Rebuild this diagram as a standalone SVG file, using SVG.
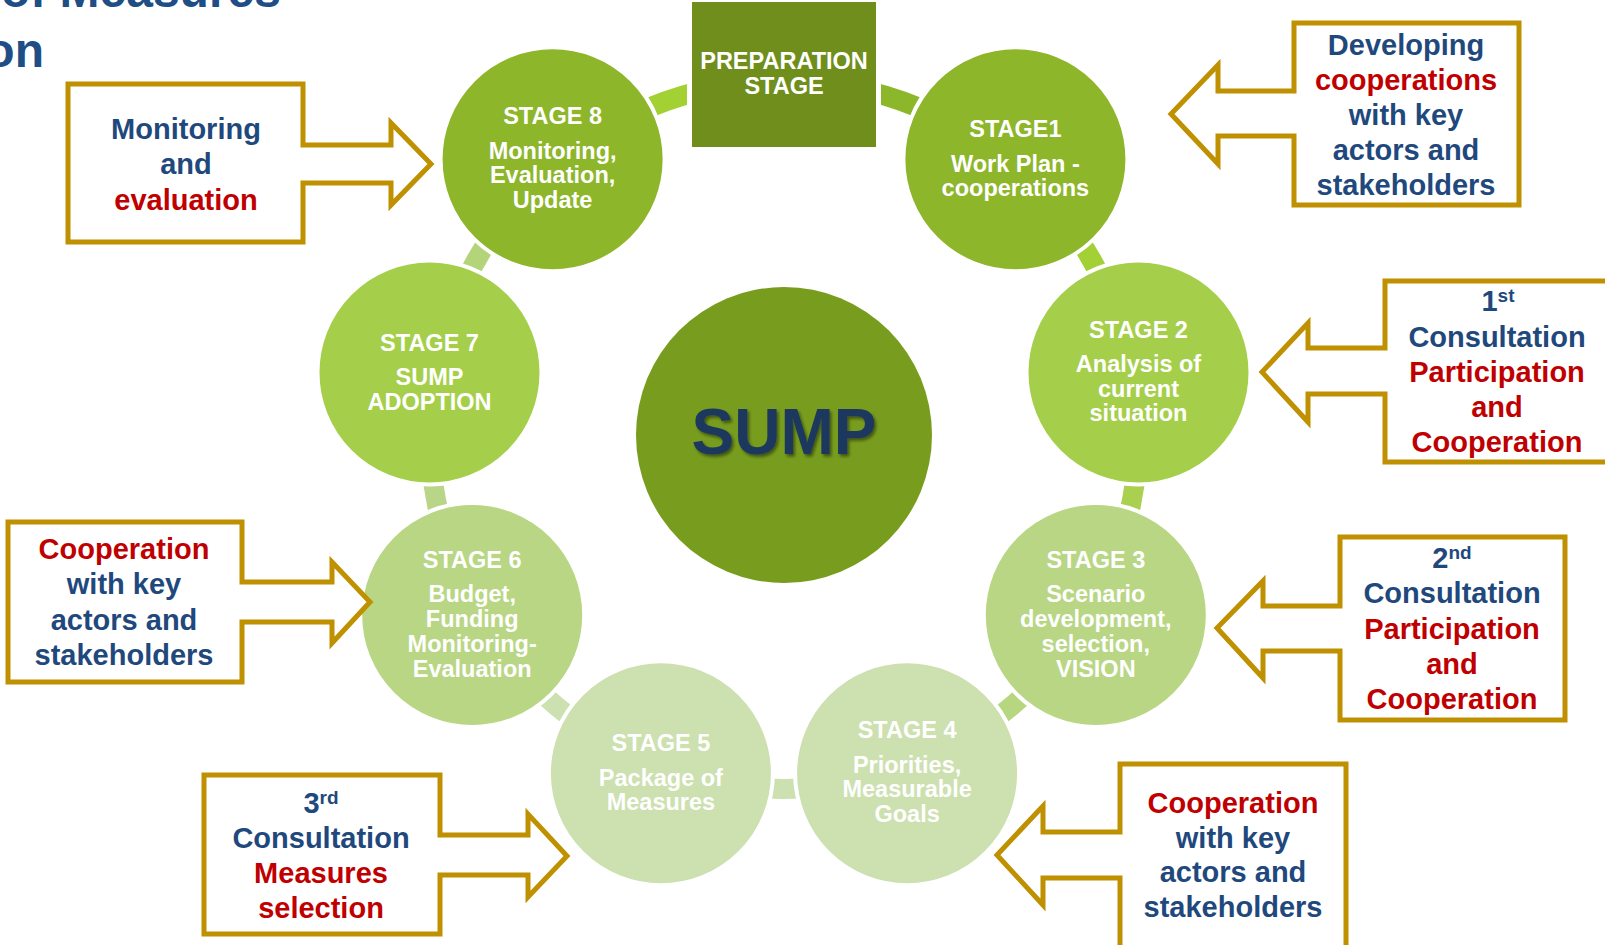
<svg xmlns="http://www.w3.org/2000/svg" xmlns:xlink="http://www.w3.org/1999/xlink" width="1605" height="945" viewBox="0 0 1605 945">
<style>
  .stage { stroke: #ffffff; stroke-width: 4; }
  .st { font-family: "Liberation Sans", Arial, sans-serif; font-weight: bold; font-size: 23.5px; fill: #ffffff; text-anchor: middle; }
  .co { fill: #ffffff; stroke: #bf9000; stroke-width: 5; stroke-linejoin: miter; }
  .ct { font-family: "Liberation Sans", Arial, sans-serif; font-weight: bold; font-size: 29px; text-anchor: middle; }
  .navy { fill: #1f497d; }
  .red { fill: #c00000; }
  .title { font-family: "Liberation Sans", Arial, sans-serif; font-weight: bold; font-size: 48px; fill: #1f4e86; text-anchor: end; }
</style>
<defs>
  <path id="seg" d="M362.01,-38.05 A364,364 0 0 1 362.01,38.05 L342.12,35.96 A344,344 0 0 0 342.12,-35.96 Z"/>
  <path id="segw" d="M355.37,-78.78 A364,364 0 0 1 355.37,78.78 L335.85,74.46 A344,344 0 0 0 335.85,-74.46 Z"/>
  <filter id="sh" x="-10%" y="-10%" width="130%" height="140%">
    <feDropShadow dx="2" dy="2.5" stdDeviation="1.5" flood-color="#000000" flood-opacity="0.45"/>
  </filter>
</defs>
<rect width="1605" height="945" fill="#ffffff"/>

<g id="title">
  <text class="title" x="281" y="7">n of Measures</text>
  <text class="title" x="44" y="67">on</text>
</g>

<g id="connectors" transform="translate(784 435)">
  <use xlink:href="#segw" fill="#8db72a" transform="rotate(-67.5)"/>
  <use xlink:href="#seg" fill="#a3d034" transform="rotate(-30)"/>
  <use xlink:href="#seg" fill="#a9d04f" transform="rotate(10)"/>
  <use xlink:href="#seg" fill="#b7d680" transform="rotate(50)"/>
  <use xlink:href="#seg" fill="#cde0b0" transform="rotate(90)"/>
  <use xlink:href="#seg" fill="#cde0b0" transform="rotate(130)"/>
  <use xlink:href="#seg" fill="#b9d688" transform="rotate(170)"/>
  <use xlink:href="#seg" fill="#b3d479" transform="rotate(210)"/>
  <use xlink:href="#segw" fill="#a3d134" transform="rotate(-112.5)"/>
</g>

<g id="sump">
  <circle cx="784" cy="435" r="148" fill="#789d1e"/>
  <text x="784" y="454" font-family="Liberation Sans, Arial, sans-serif" font-weight="bold" font-size="64" fill="#1b375f" text-anchor="middle" filter="url(#sh)">SUMP</text>
</g>

<g id="prep">
  <rect x="689.5" y="-0.5" width="189" height="150" fill="#6f8e1b" stroke="#ffffff" stroke-width="5"/>
  <text class="st" x="784" y="69">PREPARATION</text>
  <text class="st" x="784" y="94">STAGE</text>
</g>

<g id="stage1">
  <circle class="stage" cx="1015.4" cy="159.2" r="112" fill="#8db62a"/>
  <text class="st" x="1015.4" y="137.2">STAGE1</text>
  <text class="st" x="1015.4" y="171.7">Work Plan -</text>
  <text class="st" x="1015.4" y="196.2">cooperations</text>
</g>

<g id="stage2">
  <circle class="stage" cx="1138.5" cy="372.5" r="112" fill="#a5cf4a"/>
  <text class="st" x="1138.5" y="337.5">STAGE 2</text>
  <text class="st" x="1138.5" y="372">Analysis of</text>
  <text class="st" x="1138.5" y="396.5">current</text>
  <text class="st" x="1138.5" y="421">situation</text>
</g>

<g id="stage3">
  <circle class="stage" cx="1095.8" cy="615" r="112" fill="#b8d684"/>
  <text class="st" x="1095.8" y="567.5">STAGE 3</text>
  <text class="st" x="1095.8" y="602">Scenario</text>
  <text class="st" x="1095.8" y="627">development,</text>
  <text class="st" x="1095.8" y="652">selection,</text>
  <text class="st" x="1095.8" y="677">VISION</text>
</g>

<g id="stage4">
  <circle class="stage" cx="907.1" cy="773.3" r="112" fill="#cde0b0"/>
  <text class="st" x="907.1" y="738.3">STAGE 4</text>
  <text class="st" x="907.1" y="772.8">Priorities,</text>
  <text class="st" x="907.1" y="797.3">Measurable</text>
  <text class="st" x="907.1" y="821.8">Goals</text>
</g>

<g id="stage5">
  <circle class="stage" cx="660.9" cy="773.3" r="112" fill="#cde0b0"/>
  <text class="st" x="660.9" y="751.3">STAGE 5</text>
  <text class="st" x="660.9" y="785.8">Package of</text>
  <text class="st" x="660.9" y="810.3">Measures</text>
</g>

<g id="stage6">
  <circle class="stage" cx="472.2" cy="615" r="112" fill="#b8d684"/>
  <text class="st" x="472.2" y="567.5">STAGE 6</text>
  <text class="st" x="472.2" y="602">Budget,</text>
  <text class="st" x="472.2" y="627">Funding</text>
  <text class="st" x="472.2" y="652">Monitoring-</text>
  <text class="st" x="472.2" y="677">Evaluation</text>
</g>

<g id="stage7">
  <circle class="stage" cx="429.5" cy="372.5" r="112" fill="#a5cf4a"/>
  <text class="st" x="429.5" y="350.5">STAGE 7</text>
  <text class="st" x="429.5" y="385">SUMP</text>
  <text class="st" x="429.5" y="409.5">ADOPTION</text>
</g>

<g id="stage8">
  <circle class="stage" cx="552.6" cy="159.2" r="112" fill="#8db62a"/>
  <text class="st" x="552.6" y="124.2">STAGE 8</text>
  <text class="st" x="552.6" y="158.7">Monitoring,</text>
  <text class="st" x="552.6" y="183.2">Evaluation,</text>
  <text class="st" x="552.6" y="207.7">Update</text>
</g>

<g id="callout-monitoring">
  <path class="co" d="M68,84 H303 V145 H391 V123 L431,164 L391,205 V183 H303 V242 H68 Z"/>
  <text class="ct navy" x="186" y="138.5">Monitoring</text>
  <text class="ct navy" x="186" y="174">and</text>
  <text class="ct red" x="186" y="209.5">evaluation</text>
</g>

<g id="callout-developing">
  <path class="co" d="M1294,23 H1519 V205 H1294 V136 H1218 V164 L1171,114 L1218,65 V91 H1294 Z"/>
  <text class="ct navy" x="1406" y="54.5">Developing</text>
  <text class="ct red" x="1406" y="89.5">cooperations</text>
  <text class="ct navy" x="1406" y="124.5">with key</text>
  <text class="ct navy" x="1406" y="159.5">actors and</text>
  <text class="ct navy" x="1406" y="194.5">stakeholders</text>
</g>

<g id="callout-1st">
  <path class="co" d="M1385,281 H1612 V462 H1385 V394 H1308 V422 L1262,372 L1308,323 V348 H1385 Z"/>
  <text class="ct navy" x="1498" y="311">1<tspan font-size="19" dy="-9">st</tspan></text>
  <text class="ct navy" x="1497" y="347">Consultation</text>
  <text class="ct red" x="1497" y="382">Participation</text>
  <text class="ct red" x="1497" y="417">and</text>
  <text class="ct red" x="1497" y="452">Cooperation</text>
</g>

<g id="callout-2nd">
  <path class="co" d="M1340,537 H1565 V720 H1340 V651 H1263 V678 L1217,628 L1263,581 V606 H1340 Z"/>
  <text class="ct navy" x="1452" y="568">2<tspan font-size="19" dy="-9">nd</tspan></text>
  <text class="ct navy" x="1452" y="603">Consultation</text>
  <text class="ct red" x="1452" y="639">Participation</text>
  <text class="ct red" x="1452" y="674">and</text>
  <text class="ct red" x="1452" y="709">Cooperation</text>
</g>

<g id="callout-cooperation-left">
  <path class="co" d="M8,522 H242 V582 H332 V562 L370,602 L332,643 V622 H242 V682 H8 Z"/>
  <text class="ct red" x="124" y="558.5">Cooperation</text>
  <text class="ct navy" x="124" y="594">with key</text>
  <text class="ct navy" x="124" y="629.5">actors and</text>
  <text class="ct navy" x="124" y="665">stakeholders</text>
</g>

<g id="callout-3rd">
  <path class="co" d="M204,775 H440 V835 H528 V814 L567,856 L528,897 V875 H440 V934 H204 Z"/>
  <text class="ct navy" x="321" y="813">3<tspan font-size="19" dy="-9">rd</tspan></text>
  <text class="ct navy" x="321" y="848">Consultation</text>
  <text class="ct red" x="321" y="883">Measures</text>
  <text class="ct red" x="321" y="918">selection</text>
</g>

<g id="callout-cooperation-right">
  <path class="co" d="M1120,764 H1346 V950 H1120 V878 H1043 V905 L997,855 L1043,806 V832 H1120 Z"/>
  <text class="ct red" x="1233" y="813">Cooperation</text>
  <text class="ct navy" x="1233" y="847.5">with key</text>
  <text class="ct navy" x="1233" y="882">actors and</text>
  <text class="ct navy" x="1233" y="917">stakeholders</text>
</g>
</svg>
